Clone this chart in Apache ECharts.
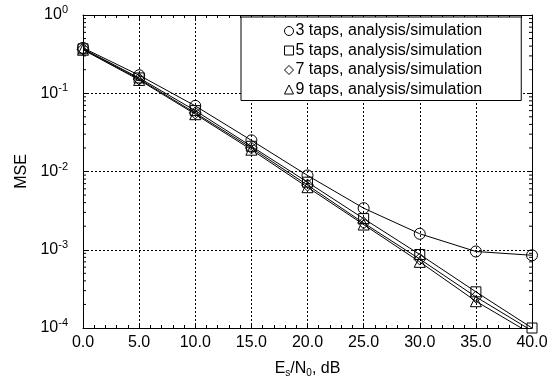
<!DOCTYPE html>
<html>
<head>
<meta charset="utf-8">
<script src="https://cdn.jsdelivr.net/npm/echarts@6/dist/echarts.min.js"></script>
<style>html,body{margin:0;padding:0;background:#fff}#c{width:554px;height:383px}</style>
</head>
<body>
<div id="c"></div>
<script>
const snr = [0, 5, 10, 15, 20, 25, 30, 35, 40];
const mse3 = [0.38, 0.17, 0.069, 0.025, 0.0089, 0.0034, 0.0016, 0.00095, 0.00085];
const mse5 = [0.37, 0.157, 0.06, 0.021, 0.0073, 0.0025, 0.00087, 0.00029, 0.0001];
const mse7 = [0.365, 0.152, 0.056, 0.02, 0.0067, 0.0022, 0.00076, 0.00025, 0.000092];
const mse9 = [0.36, 0.148, 0.054, 0.019, 0.0063, 0.0021, 0.0007, 0.00022, 0.000083];
const seriesNames = ['3 taps, analysis/simulation','5 taps, analysis/simulation','7 taps, analysis/simulation','9 taps, analysis/simulation'];
const symbols = ['circle','rect','diamond','triangle'];
const allData = [mse3, mse5, mse7, mse9];
const xTicks = ['0.0','5.0','10.0','15.0','20.0','25.0','30.0','35.0','40.0'];

const FONT = 'Liberation Sans, Arial, sans-serif';
const FS = 16;
const chart = echarts.init(document.getElementById('c'), null, {renderer:'canvas'});
const symSize = [11, 10, 12, 11];

const series = allData.map((d, i) => ({
  name: seriesNames[i],
  type: 'line',
  data: snr.map((x, j) => [x, d[j]]),
  symbol: symbols[i],
  symbolSize: symSize[i],
  clip: true,
  lineStyle: {color:'#000', width:1},
  itemStyle: {color:'transparent', borderColor:'#000', borderWidth:1},
  emphasis: {disabled:true},
  animation: false
}));

const axisCommon = {
  axisLine: {show:true, onZero:false, lineStyle:{color:'#000', width:1}},
};

chart.setOption({
  animation: false,
  grid: {left: 83, right: 22, top: 15, bottom: 52, containLabel: false},
  legend: {
    orient: 'vertical',
    left: 241, top: 17,
    padding: [6, 39, 3, 43],
    itemGap: 3.5,
    itemWidth: 9, itemHeight: 9,
    borderColor: '#000', borderWidth: 1, backgroundColor: '#fff',
    textStyle: {fontFamily: FONT, fontSize: FS, color: '#000', padding:[0,0,0,-3]},
    itemStyle: {color:'transparent', borderColor:'#000', borderWidth:1},
    data: seriesNames.map((n, i) => ({name: n, icon: symbols[i]}))
  },
  xAxis: [{
    type: 'value', min: 0, max: 40, interval: 5,
    ...axisCommon,
    axisTick: {show:true, inside:true, length:5, lineStyle:{color:'#000'}},
    minorTick: {show:true, splitNumber:5, length:3, lineStyle:{color:'#000'}},
    splitLine: {show:true, lineStyle:{color:'#000', type:[2,2], width:1}},
    axisLabel: {fontFamily: FONT, fontSize: FS, color:'#000', margin: 7,
      formatter: (v) => xTicks[Math.round(v/5)]},
    name: 'E{sub|s}/N{sub|0}, dB',
    nameLocation: 'middle', nameGap: 32,
    nameTextStyle: {fontFamily: FONT, fontSize: FS, color:'#000',
      rich: {sub: {fontFamily: FONT, fontSize: 10, color:'#000', padding:[8,0,0,0]}}}
  }, {
    type: 'value', min: 0, max: 40, interval: 5, position: 'top',
    ...axisCommon,
    axisTick: {show:true, inside:true, length:5, lineStyle:{color:'#000'}},
    minorTick: {show:true, splitNumber:5, length:3, lineStyle:{color:'#000'}},
    splitLine: {show:false},
    axisLabel: {show:false}
  }],
  yAxis: [{
    type: 'log', logBase: 10, min: 0.0001, max: 1,
    ...axisCommon,
    axisTick: {show:true, inside:true, length:5, lineStyle:{color:'#000'}},
    splitLine: {show:true, lineStyle:{color:'#000', type:[2,2], width:1}},
    axisLabel: {fontFamily: FONT, fontSize: FS, color:'#000', margin: 15,
      formatter: (v) => '10{sup|' + Math.round(Math.log10(v)) + '}',
      rich: {sup: {fontFamily: FONT, fontSize: 11, color:'#000', padding:[0,0,10,0]}}},
    name: 'MSE', nameLocation: 'middle', nameGap: 53,
    nameTextStyle: {fontFamily: FONT, fontSize: FS, color:'#000'}
  }, {
    type: 'log', logBase: 10, min: 0.0001, max: 1, position: 'right',
    ...axisCommon,
    axisTick: {show:true, inside:true, length:5, lineStyle:{color:'#000'}},
    splitLine: {show:false},
    axisLabel: {show:false}
  }],
  series: series
});

// minor log ticks (2..9 in each decade) on left and right, placed through the axis scale
const xL = chart.convertToPixel({xAxisIndex:0}, 0);
const xR = chart.convertToPixel({xAxisIndex:0}, 40);
const g = [];
for (let d = -4; d < 0; d++) {
  for (let k = 2; k <= 9; k++) {
    const y = chart.convertToPixel({yAxisIndex:0}, k * Math.pow(10, d));
    g.push({type:'line', shape:{x1:xL, y1:y, x2:xL+3, y2:y}, style:{stroke:'#000', lineWidth:1}, silent:true});
    g.push({type:'line', shape:{x1:xR-3, y1:y, x2:xR, y2:y}, style:{stroke:'#000', lineWidth:1}, silent:true});
  }
}
chart.setOption({graphic: g});
</script>
</body>
</html>
